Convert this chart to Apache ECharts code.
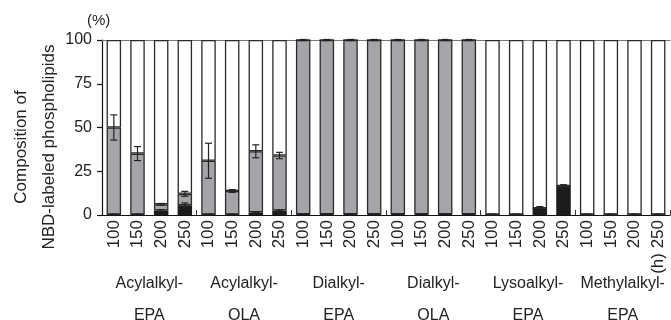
<!DOCTYPE html>
<html>
<head>
<meta charset="utf-8">
<script src="https://cdn.jsdelivr.net/npm/echarts@6/dist/echarts.min.js"></script>
<style>
html,body{margin:0;padding:0;background:#fff;}
#c{width:671px;height:320px;}
</style>
</head>
<body>
<div id="c"></div>
<script>
// ---- data ----
const hours = ['100', '150', '200', '250'];
const groups = ['Acylalkyl-\nEPA', 'Acylalkyl-\nOLA', 'Dialkyl-\nEPA', 'Dialkyl-\nOLA', 'Lysoalkyl-\nEPA', 'Methylalkyl-\nEPA'];
const yTicks = [0, 25, 50, 75, 100];
// black (bottom) component, %
const blackPct = [0.3, 0.3, 2.5, 5.6,  0.3, 0.3, 1.5, 2.5,  0.4, 0.4, 0.4, 0.4,  0.4, 0.4, 0.4, 0.4,  0.3, 0.3, 3.8, 16.5,  0.3, 0.3, 0.3, 0.3];
// gray component (stacked on black), %
const grayPct  = [49.7, 34.8, 3.6, 6.5,  30.7, 13.4, 34.9, 31.5,  99.6, 99.6, 99.6, 99.6,  99.6, 99.6, 99.6, 99.6,  0, 0, 0, 0,  0, 0, 0, 0];
// error (+/-) on the black component
const blackErr = [0.2, 0.2, 0.5, 1.3,  0.2, 0.2, 0.3, 0.4,  0.2, 0.2, 0.2, 0.2,  0.2, 0.2, 0.2, 0.2,  0.2, 0.2, 1.0, 0.8,  0.2, 0.2, 0.2, 0.2];
// error (+/-) on the black+gray total
const totalErr = [7.2, 4.0, 0.5, 1.4,  10.0, 0.8, 3.7, 1.8,  0.3, 0.3, 0.3, 0.3,  0.3, 0.3, 0.3, 0.3,  0, 0, 0, 0,  0, 0, 0, 0];

// ---- derived ----
const categories = [];
groups.forEach(() => hours.forEach(h => categories.push(h)));
const whitePct = blackPct.map((b, i) => Math.max(0, 100 - b - grayPct[i]));
const errData = [];
blackPct.forEach((b, i) => {
  if (blackErr[i] > 0) errData.push([i, b, b - blackErr[i], b + blackErr[i]]);
  const t = b + grayPct[i];
  if (totalErr[i] > 0) errData.push([i, t, t - totalErr[i], t + totalErr[i]]);
});

const FONT = "'Liberation Sans', Arial, Helvetica, sans-serif";
const TXT = '#222';
const chart = echarts.init(document.getElementById('c'), null, {renderer: 'canvas'});

const barCommon = {
  type: 'bar', stack: 'a', barWidth: 14.5, xAxisIndex: 0, yAxisIndex: 0,
  itemStyle: {borderColor: '#2a2a2a', borderWidth: 1.3},
  emphasis: {disabled: true}, animation: false
};

chart.setOption({
  animation: false,
  grid: {left: 102, right: 1, top: 40, bottom: 105, containLabel: false, outerBoundsMode: 'none'},
  xAxis: [
    {
      type: 'category', data: categories, position: 'bottom',
      axisLine: {lineStyle: {color: '#111', width: 1.2}},
      axisTick: {show: true, inside: true, length: 5, alignWithLabel: false,
        interval: function (idx) { return idx > 0 && idx % 4 === 0; },
        lineStyle: {color: '#333', width: 1}},
      axisLabel: {interval: 0, rotate: 90, margin: 5, fontSize: 17, fontFamily: FONT, color: TXT,
        formatter: function (v, i) { return i === categories.length - 1 ? '(h) ' + v : v; }}
    },
    {
      type: 'category', data: groups, position: 'bottom', offset: 53,
      axisLine: {show: false}, axisTick: {show: false},
      axisLabel: {interval: 0, margin: 0, fontSize: 16, lineHeight: 32, fontFamily: FONT, color: TXT}
    },
    {
      type: 'category', data: categories, position: 'top',
      axisLine: {show: true, lineStyle: {color: '#777', width: 1.2}},
      axisTick: {show: false}, axisLabel: {show: false}
    }
  ],
  yAxis: {
    type: 'value', min: 0, max: 100, interval: 25,
    axisLine: {show: true, lineStyle: {color: '#111', width: 1.2}},
    axisTick: {show: true, length: 5, lineStyle: {color: '#111', width: 1.2}},
    splitLine: {show: false},
    axisLabel: {margin: 10, fontSize: 16, fontFamily: FONT, color: TXT,
      formatter: function (v) { return yTicks.indexOf(v) >= 0 ? String(v) : ''; }}
  },
  series: [
    Object.assign({}, barCommon, {name: 'black', data: blackPct, itemStyle: {color: '#1c1c1c', borderColor: '#1c1c1c', borderWidth: 1.3}}),
    Object.assign({}, barCommon, {name: 'gray', data: grayPct, itemStyle: {color: '#a4a5a9', borderColor: '#2a2a2a', borderWidth: 1.3}}),
    Object.assign({}, barCommon, {name: 'white', data: whitePct, itemStyle: {color: '#ffffff', borderColor: '#2a2a2a', borderWidth: 1.3}}),
    {
      type: 'custom', xAxisIndex: 0, yAxisIndex: 0, z: 10, data: errData,
      encode: {x: 0, y: [1, 2, 3]},
      renderItem: function (params, api) {
        const lo = api.coord([api.value(0), api.value(2)]);
        const hi = api.coord([api.value(0), api.value(3)]);
        const x = lo[0], w = 3.5;
        const st = {stroke: '#222', lineWidth: 1.2};
        return {type: 'group', children: [
          {type: 'line', shape: {x1: x, y1: hi[1], x2: x, y2: lo[1]}, style: st},
          {type: 'line', shape: {x1: x - w, y1: hi[1], x2: x + w, y2: hi[1]}, style: st},
          {type: 'line', shape: {x1: x - w, y1: lo[1], x2: x + w, y2: lo[1]}, style: st}
        ]};
      }
    }
  ],
  graphic: [
    {type: 'text', left: 87, top: 13, style: {text: '(%)', fontSize: 15, fontFamily: FONT, fill: TXT}},
    {type: 'text', x: 21, y: 147, rotation: Math.PI / 2,
      style: {text: 'Composition of', fontSize: 17, fontFamily: FONT, fill: TXT, textAlign: 'center', textVerticalAlign: 'middle'}},
    {type: 'text', x: 49, y: 147, rotation: Math.PI / 2,
      style: {text: 'NBD-labeled phospholipids', fontSize: 17, fontFamily: FONT, fill: TXT, textAlign: 'center', textVerticalAlign: 'middle'}}
  ]
});
</script>
</body>
</html>
